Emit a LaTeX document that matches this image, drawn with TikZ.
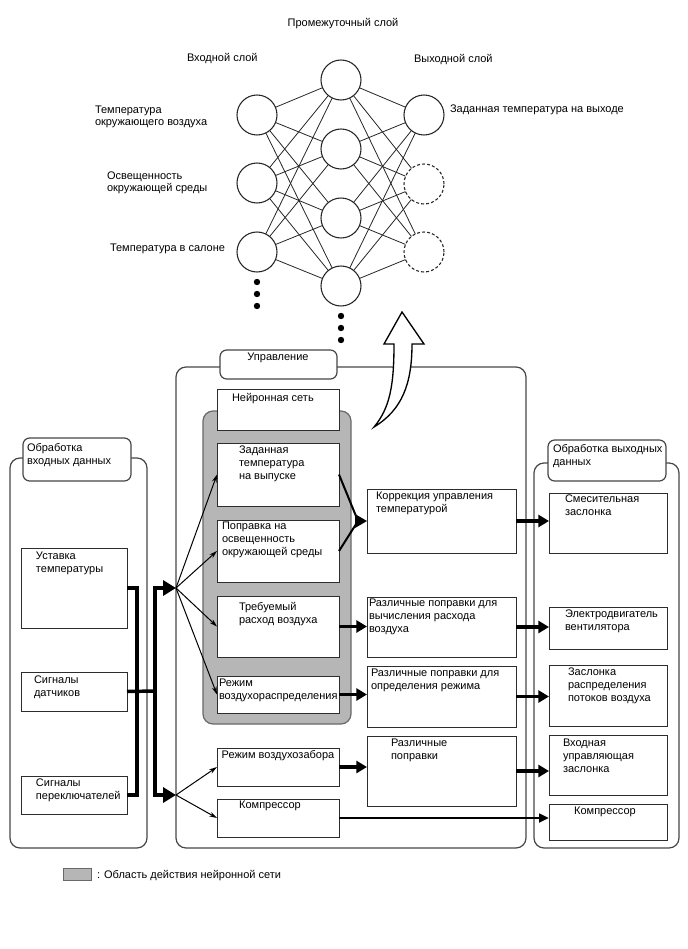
\documentclass[tikz,border=0pt]{standalone}
\usepackage{fontspec}
\setmainfont{Liberation Sans}
\usetikzlibrary{arrows.meta,fit,calc}
\definecolor{nngray}{RGB}{182,182,182}
\definecolor{nnedge}{RGB}{105,105,105}
\definecolor{cline}{RGB}{70,70,70}
\definecolor{bline}{RGB}{45,45,45}
\begin{document}
\begin{tikzpicture}[x=0.75pt,y=-0.75pt,
  every node/.style={inner sep=0pt, outer sep=0pt},
  txt/.style={anchor=north west, align=left, font=\fontsize{8.25}{9.75}\selectfont},
  ctxt/.style={anchor=north, align=center, font=\fontsize{8.25}{9.75}\selectfont},
  toptxt/.style={anchor=north west, align=left, font=\fontsize{8.25}{9}\selectfont},
  box/.style={draw=bline, line width=0.75pt, fill=white, rectangle},
  cont/.style={draw=cline, line width=0.9pt, rectangle, rounded corners=7.5pt},
  tabbox/.style={draw=cline, line width=0.9pt, fill=white, rectangle, rounded corners=5pt},
  graybox/.style={draw=nnedge, line width=0.9pt, fill=nngray, rectangle, rounded corners=7.5pt},
  neuron/.style={circle, draw=black!85, line width=0.8pt, minimum size=30pt, fill=white},
  dneuron/.style={neuron, dash pattern=on 2.2pt off 1.6pt},
  nnline/.style={line width=0.6pt, draw=black!85},
  bus/.style={line width=2.6pt, line join=miter},
  busarrow/.style={bus, -{Triangle[length=9.75pt,width=11.25pt]}},
  thk/.style={line width=2.8pt, -{Triangle[length=8pt,width=9pt]}},
  cmp/.style={line width=2.2pt, -{Triangle[length=7.5pt,width=6.5pt]}},
  fan/.style={line width=0.75pt, -{Stealth[length=6pt,width=3.6pt]}},
  conv/.style={line width=1.5pt}
]
\useasboundingbox (0,0) rectangle (688,949);

% ---------------- neural net ----------------
\foreach \n/\y in {1/115,2/183,3/252} \node[neuron] (i\n) at (257,\y) {};
\foreach \n/\y in {1/80,2/149,3/218,4/286} \node[neuron] (h\n) at (341,\y) {};
\node[neuron] (o1) at (424,115) {};
\node[dneuron] (o2) at (424,184) {};
\node[dneuron] (o3) at (424,252) {};
\foreach \a in {1,2,3} \foreach \b in {1,...,4} \draw[nnline] (i\a) -- (h\b);
\foreach \a in {1,...,4} \foreach \b in {1,2,3} \draw[nnline] (h\a) -- (o\b);
\foreach \y in {282,294,306} \fill (257,\y) circle (2.4pt);
\foreach \y in {316,328,340} \fill (341,\y) circle (2.4pt);

\node[ctxt, font=\fontsize{8.25}{9}\selectfont] (lmid) at (343,18) {Промежуточный слой};
\node[toptxt] (lin) at (187,53) {Входной слой};
\node[toptxt] (lout) at (414,54) {Выходной слой};
\node[toptxt] (l1) at (95,106) {Температура\\окружающего воздуха};
\node[toptxt] (l2) at (107,172) {Освещенность\\окружающей среды};
\node[toptxt] (l3) at (110,244) {Температура в салоне};
\node[toptxt] (l4) at (450,105) {Заданная температура на выходе};

% ---------------- containers ----------------
\node[cont, fit={(10,458) (147,848)}] (inC) {};
\node[cont, fit={(176,367) (526,848)}] (ctl) {};
\node[cont, fit={(534,463) (679,848)}] (outC) {};
\node[tabbox, fit={(23,438) (131,481)}] (inT) {};
\node[tabbox, fit={(220,350) (337,379)}] (ctT) {};
\node[tabbox, fit={(548,440) (666,481)}] (outT) {};
\node[txt] (inTt) at (27,443) {Обработка\\входных данных};
\node[ctxt] (ctTt) at (278,353) {Управление};
\node[txt] (outTt) at (553,444) {Обработка выходных\\данных};

\node[graybox, fit={(203,411) (351,724)}] (gr) {};

% ---------------- boxes ----------------
\node[box, fit={(217,389) (339,430)}] (nn) {};
\node[box, fit={(217,443) (339,506)}] (zt) {};
\node[box, fit={(217,520) (339,582)}] (pp) {};
\node[box, fit={(217,596) (339,657)}] (tr) {};
\node[box, fit={(217,676) (339,713)}] (rv) {};
\node[box, fit={(217,748) (339,786)}] (rz) {};
\node[box, fit={(217,799) (339,837)}] (cL) {};

\node[box, fit={(367,489) (516,553)}] (kc) {};
\node[box, fit={(367,597) (516,657)}] (rr) {};
\node[box, fit={(367,666) (516,727)}] (rm) {};
\node[box, fit={(367,736) (516,806)}] (rp) {};

\node[box, fit={(21,548) (127,628)}] (us) {};
\node[box, fit={(21,672) (127,711)}] (sd) {};
\node[box, fit={(21,776) (127,814)}] (sp) {};

\node[box, fit={(549,493) (667,553)}] (sm) {};
\node[box, fit={(549,607) (667,649)}] (ed) {};
\node[box, fit={(549,665) (667,726)}] (zr) {};
\node[box, fit={(549,735) (667,795)}] (vz) {};
\node[box, fit={(549,804) (667,840)}] (cR) {};

% texts
\node[txt] (nnt) at (232,393) {Нейронная сеть};
\node[txt] (ztt) at (239,446) {Заданная\\температура\\на выпуске};
\node[txt] (ppt) at (222,522) {Поправка на\\освещенность\\окружающей среды};
\node[txt] (trt) at (239,602) {Требуемый\\расход воздуха};
\node[txt] (rvt) at (219,679) {Режим\\воздухораспределения};
\node[ctxt] (rzt) at (278,750) {Режим воздухозабора};
\node[ctxt] (cLt) at (270,801) {Компрессор};

\node[txt] (kct) at (376,492) {Коррекция управления\\температурой};
\node[txt] (rrt) at (369,599) {Различные поправки для\\вычисления расхода\\воздуха};
\node[txt] (rmt) at (371,669) {Различные поправки для\\определения режима};
\node[txt] (rpt) at (391,739) {Различные\\поправки};

\node[txt] (ust) at (36,552) {Уставка\\температуры};
\node[txt] (sdt) at (34,676) {Сигналы\\датчиков};
\node[txt] (spt) at (36,779) {Сигналы\\переключателей};

\node[txt] (smt) at (565,495) {Смесительная\\заслонка};
\node[txt] (edt) at (565,610) {Электродвигатель\\вентилятора};
\node[txt] (zrt) at (568,668) {Заслонка\\распределения\\потоков воздуха};
\node[txt] (vzt) at (563,739) {Входная\\управляющая\\заслонка};
\node[ctxt] (cRt) at (605,807) {Компрессор};

% ---------------- input bus ----------------
\coordinate (bl) at (137,588);
\coordinate (bm) at (155,691);
\coordinate (fanA) at (176,588);
\coordinate (fanB) at (176,795);
\draw[bus] (us.east) -- (bl) |- (sp.east);
\draw[bus] (sd.east) -- (bm);
\draw[busarrow] (bm) |- (fanA);
\draw[busarrow] (bm) |- (fanB);

% fan arrows
\draw[fan] (fanA) -- (zt.west);
\draw[fan] (fanA) -- (pp.west);
\draw[fan] (fanA) -- (tr.west);
\draw[fan] (fanA) -- (rv.west);
\draw[fan] (fanB) -- (rz.west);
\draw[fan] (fanB) -- (cL.west);

% converging into correction
\coordinate (kin) at ($(kc.west)+(-9,0)$);
\draw[conv] (zt.east) -- (kin);
\draw[conv] (pp.east) -- (kin);
\fill ($(kc.west)+(-12,-7)$) -- (kc.west) -- ($(kc.west)+(-12,7)$) -- cycle;

% thick arrows
\draw[thk] (tr.east) -- (tr.east -| rr.west);
\draw[thk] (rv.east) -- (rv.east -| rm.west);
\draw[thk] (rz.east) -- (rz.east -| rp.west);
\draw[thk] (kc.east) -- (kc.east -| sm.west);
\draw[thk] (rr.east) -- (rr.east -| ed.west);
\draw[thk] (rm.east) -- (rm.east -| zr.west);
\draw[thk] (rp.east) -- (rp.east -| vz.west);
\draw[cmp] (cL.east) -- (cL.east -| cR.west);

% ---------------- curved hollow arrow ----------------
\draw[line width=1pt, fill=white, line join=miter]
  (374,427) .. controls (390,408) and (394,385) .. (394,344)
  -- (384,344) -- (402,312) -- (424,344) -- (412,344)
  .. controls (412,384) and (402,410) .. (374,427) -- cycle;

% ---------------- legend ----------------
\node[draw=nnedge, line width=0.75pt, fill=nngray, fit={(63,868) (91,880)}] (leg) {};
\node[txt] (legt) at (97,870) {: Область действия нейронной сети};
\end{tikzpicture}
\end{document}
